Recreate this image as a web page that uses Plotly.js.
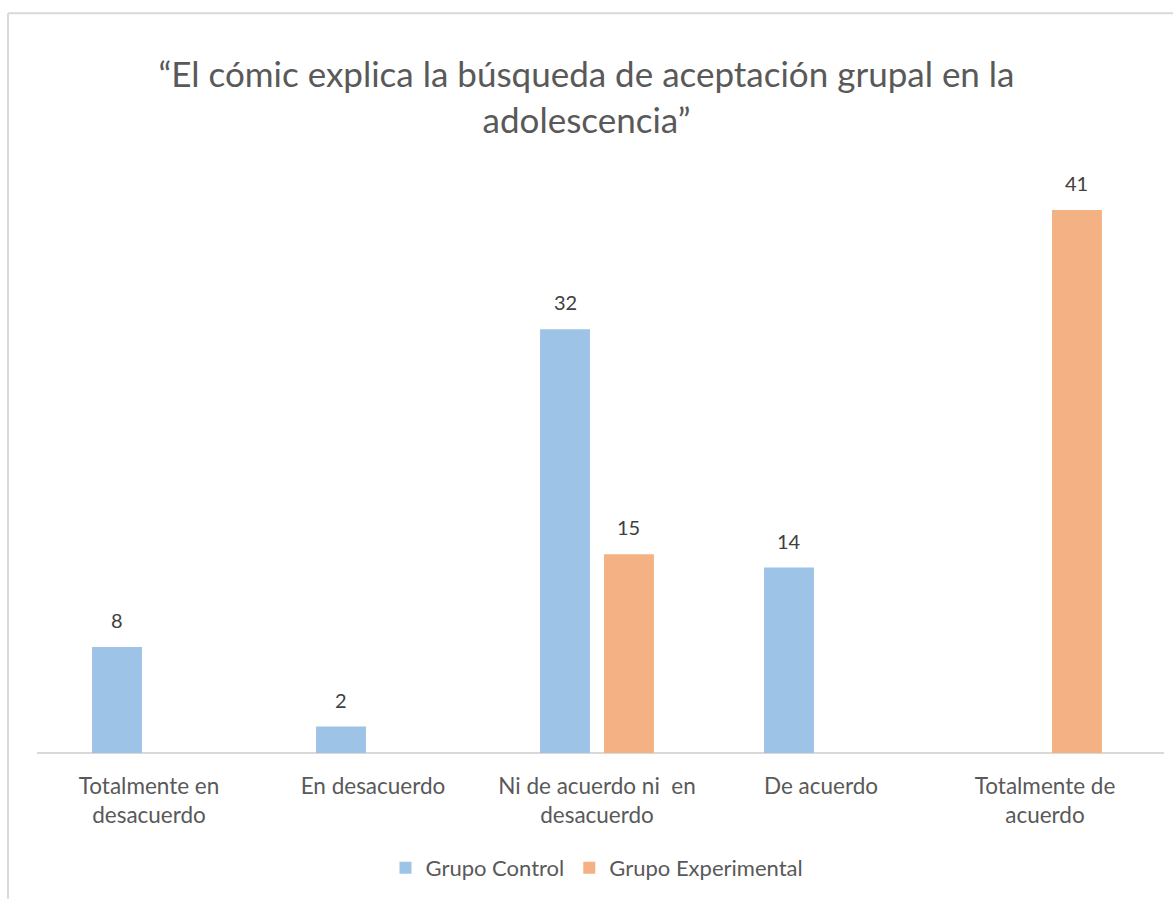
<!DOCTYPE html>
<html>
<head>
<meta charset="utf-8">
<script src="https://cdn.plot.ly/plotly-3.0.1.min.js"></script>
<style>html,body{margin:0;padding:0;background:#fff;}#chart{width:1173px;height:900px;}</style>
</head>
<body>
<div id="chart"></div>
<script>
const categories = ["Totalmente en<br>desacuerdo", "En desacuerdo", "Ni de acuerdo ni  en<br>desacuerdo", "De acuerdo", "Totalmente de<br>acuerdo"];
const grupoControl = [8, 2, 32, 14, null];
const grupoExperimental = [null, null, 15, null, 41];
const seriesNames = ["Grupo Control", "Grupo Experimental"];
const titleText = "“El cómic explica la búsqueda de aceptación grupal en la<br>adolescencia”";

const FONT = "Lato, 'Open Sans', sans-serif";
const colors = ["#9DC3E6", "#F4B183"];
const bargap = 0.429, slot = (1 - bargap) / 2;

const traces = [grupoControl, grupoExperimental].map((vals, k) => ({
  type: "bar",
  name: seriesNames[k],
  x: categories,
  y: vals,
  marker: {color: colors[k]},
  hoverinfo: "x+y"
}));

const annotations = [];
[grupoControl, grupoExperimental].forEach((vals, k) => {
  vals.forEach((v, i) => {
    if (v === null) return;
    annotations.push({
      xref: "x", yref: "y",
      x: i + (k === 0 ? -slot / 2 : slot / 2),
      y: v,
      text: String(v),
      showarrow: false,
      yanchor: "bottom",
      yshift: 13,
      font: {family: FONT, size: 20, color: "#404040"}
    });
  });
});

const W = 1120, H = 597;
const layout = {
  width: 1173, height: 900,
  paper_bgcolor: "#fff", plot_bgcolor: "#fff",
  margin: {l: 37, r: 16, t: 157, b: 146},
  barmode: "group",
  bargap: bargap,
  bargroupgap: 0.22,
  font: {family: FONT, color: "#595959"},
  title: {
    text: titleText,
    font: {family: FONT, size: 35, color: "#595959"},
    x: 0.5, xref: "container", xanchor: "center",
    y: 1 - 87 / 900, yref: "container", yanchor: "middle"
  },
  xaxis: {
    type: "category",
    showgrid: false,
    showline: false,
    ticks: "",
    tickfont: {family: FONT, size: 22.5, color: "#595959"},
    ticklabelstandoff: 17,
    fixedrange: true
  },
  yaxis: {
    range: [0, 45],
    visible: false,
    showgrid: false,
    zeroline: false,
    fixedrange: true
  },
  showlegend: true,
  legend: {
    orientation: "h",
    x: 0.5, xanchor: "center",
    y: -(868 - 754) / H, yanchor: "middle",
    font: {family: FONT, size: 22, color: "#595959"},
    itemwidth: 30,
    traceorder: "normal"
  },
  annotations: annotations,
  shapes: [
    {type: "line", xref: "paper", yref: "paper", x0: 0, x1: 1 + 7 / W, y0: 0, y1: 0, line: {color: "#d9d9d9", width: 2}, layer: "below"},
    {type: "line", xref: "paper", yref: "paper", x0: -29 / W, x1: 1.02, y0: 1 + (157 - 13) / H, y1: 1 + (157 - 13) / H, line: {color: "#d9d9d9", width: 2}},
    {type: "line", xref: "paper", yref: "paper", x0: -29 / W, x1: -29 / W, y0: 1 + (157 - 13) / H, y1: -146 / H, line: {color: "#d9d9d9", width: 2}}
  ]
};

Plotly.newPlot("chart", traces, layout, {displayModeBar: false, staticPlot: true});
</script>
</body>
</html>
